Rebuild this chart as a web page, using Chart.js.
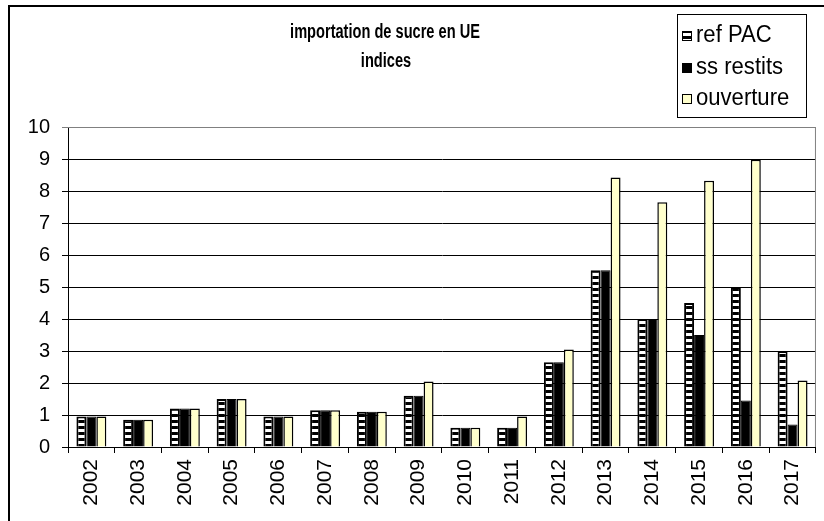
<!DOCTYPE html>
<html><head><meta charset="utf-8">
<script src="https://cdn.jsdelivr.net/npm/chart.js@4/dist/chart.umd.min.js"></script>
<style>html,body{margin:0;padding:0;background:#fff}#wrap{width:824px;height:521px;position:relative}</style>
</head><body><div id="wrap"><canvas id="c" width="824" height="521"></canvas></div>
<script>
const years = ['2002','2003','2004','2005','2006','2007','2008','2009','2010','2011','2012','2013','2014','2015','2016','2017'];
const refPAC =    [0.95,0.85,1.2,1.5,0.95,1.15,1.1,1.6,0.6,0.6,2.65,5.52,4.0,4.5,5.0,3.0];
const ssRestits = [0.95,0.85,1.2,1.5,0.95,1.15,1.1,1.6,0.6,0.6,2.65,5.52,4.0,3.5,1.45,0.7];
const ouverture = [0.95,0.85,1.2,1.5,0.95,1.15,1.1,2.05,0.6,0.95,3.05,8.42,7.65,8.32,8.98,2.08];
const seriesNames = ['ref PAC','ss restits','ouverture'];
const titleLines = ['importation de sucre en UE','indices'];
const yTicks = [0,1,2,3,4,5,6,7,8,9,10];

const FONT = "'Liberation Sans', Arial, sans-serif";

function stripePattern(){
  const pc = document.createElement('canvas');
  pc.width = 4; pc.height = 6;
  const p = pc.getContext('2d');
  p.fillStyle = '#000'; p.fillRect(0,0,4,6);
  p.fillStyle = '#fff'; p.fillRect(0,3,4,3);
  return p.createPattern(pc,'repeat');
}
const ctx0 = document.getElementById('c').getContext('2d');
const pat = stripePattern();

const decor = {
  id:'decor',
  beforeDraw(chart){
    const c = chart.ctx;
    c.save();
    c.fillStyle='#fff'; c.fillRect(0,0,chart.width,chart.height);
    c.restore();
  },
  afterDraw(chart){
    const c = chart.ctx, a = chart.chartArea;
    c.save();
    // outer border (top & left)
    c.strokeStyle='#000'; c.lineWidth=2;
    c.beginPath(); c.moveTo(9,521); c.lineTo(9,6); c.lineTo(824,6); c.stroke();
    // plot area border top/right gray
    c.strokeStyle='#808080'; c.lineWidth=1;
    c.beginPath(); c.moveTo(a.left,a.top+0.5); c.lineTo(a.right-0.5,a.top+0.5); c.lineTo(a.right-0.5,a.bottom); c.stroke();
    // title (condensed bold)
    c.fillStyle='#000'; c.font='bold 20px '+FONT; c.textAlign='center'; c.textBaseline='middle';
    c.save(); c.translate(385,32); c.scale(0.73,1); c.fillText(titleLines[0],0,0); c.restore();
    c.save(); c.translate(386,61); c.scale(0.73,1); c.fillText(titleLines[1],0,0); c.restore();
    // legend
    c.strokeStyle='#000'; c.lineWidth=1;
    c.strokeRect(677.5,14.5,129,103);
    const fills=[pat,'#000','#FFFFCC'];
    c.font='23px '+FONT; c.textAlign='left';
    const ys=[35,67,98];
    for(let i=0;i<3;i++){
      c.fillStyle=fills[i];
      c.fillRect(682,ys[i]-4,10,10);
      c.strokeRect(682.5,ys[i]-3.5,9,9);
      c.fillStyle='#000';
      c.save(); c.translate(696,ys[i]+1); c.scale(0.96,1); c.fillText(seriesNames[i],0,0); c.restore();
    }
    c.restore();
  }
};

new Chart(ctx0,{
  type:'bar',
  data:{labels:years,datasets:[
    {label:seriesNames[0],data:refPAC,backgroundColor:pat,borderColor:'#000',borderWidth:2},
    {label:seriesNames[1],data:ssRestits,backgroundColor:'#000',borderColor:'#000',borderWidth:1},
    {label:seriesNames[2],data:ouverture,backgroundColor:'#FFFFCC',borderColor:'#000',borderWidth:1.5}
  ]},
  options:{
    responsive:false,animation:false,
    layout:{padding:{top:127,right:7,left:0,bottom:0}},
    datasets:{bar:{categoryPercentage:0.64,barPercentage:1}},
    plugins:{legend:{display:false},title:{display:false},tooltip:{enabled:false}},
    scales:{
      x:{
        grid:{offset:true,drawOnChartArea:false,drawTicks:true,tickLength:6,color:'#000'},
        border:{color:'#000',width:1},
        ticks:{minRotation:90,maxRotation:90,color:'#000',font:{family:FONT,size:21},padding:6},
        afterFit(s){s.height=74;}
      },
      y:{
        min:0,max:10,
        afterBuildTicks(s){s.ticks=yTicks.map(v=>({value:v}));},
        grid:{color:(ctx)=>ctx.tick && ctx.tick.value===10?'#808080':'#000',drawTicks:true,tickLength:6},
        border:{color:'#000',width:1},
        ticks:{color:'#000',font:{family:FONT,size:20},padding:12},
        afterFit(s){s.width=68;}
      }
    }
  },
  plugins:[decor]
});
</script></body></html>
